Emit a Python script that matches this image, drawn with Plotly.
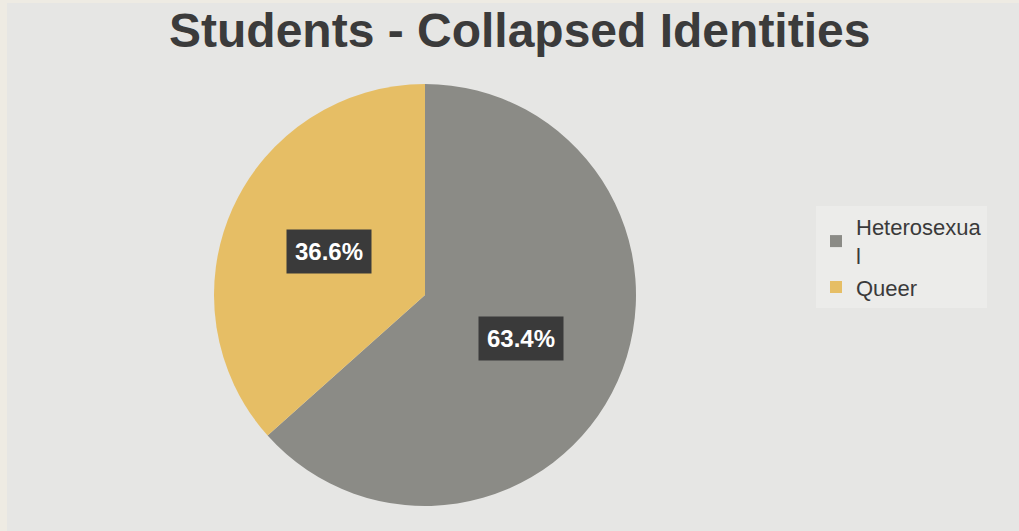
import math
import plotly.graph_objects as go

W, H = 1019, 531

categories = ["Heterosexua<br>l", "Queer"]
values = [63.4, 36.6]
colors = ["#8b8b86", "#e6be65"]
title_text = "Students - Collapsed Identities"

# pie geometry in pixels
cx, cy, r = 425, 295, 211

fig = go.Figure()
fig.add_trace(go.Pie(
    labels=categories,
    values=values,
    marker=dict(colors=colors, line=dict(width=0)),
    sort=False,
    direction="clockwise",
    rotation=0,
    textinfo="none",
    hoverinfo="label+percent",
    domain=dict(x=[(cx - r) / W, (cx + r) / W],
                y=[(H - cy - r) / H, (H - cy + r) / H]),
))

# percent labels with dark boxes, placed at half radius along each slice's mid-angle
total = sum(values)
cum = 0.0
annotations = []
for v in values:
    mid = cum + v / 2
    cum += v
    ang = math.radians(90 - 360 * mid / total)
    px = cx + 0.5 * r * math.cos(ang)
    py = cy - 0.5 * r * math.sin(ang)
    annotations.append(dict(
        x=px / W, y=1 - py / H, xref="paper", yref="paper",
        text=f"<b>{v / total * 100:.1f}%</b>", showarrow=False,
        font=dict(family="Liberation Sans, Arial", size=24, color="white"),
        bgcolor="#3a3a3a", borderpad=8,
        xanchor="center", yanchor="middle",
    ))

annotations.append(dict(
    x=519 / W, y=1 - 31 / H, xref="paper", yref="paper",
    text=f"<b>{title_text}</b>", showarrow=False,
    font=dict(family="Liberation Sans, Arial", size=48, color="#3b3b3b"),
    xanchor="center", yanchor="middle",
))

fig.update_layout(
    width=W, height=H,
    margin=dict(l=0, r=0, t=0, b=0),
    paper_bgcolor="#eeebe3",
    showlegend=True,
    legend=dict(
        x=816 / W, y=1 - 206 / H, xanchor="left", yanchor="top",
        bgcolor="#ececea",
        font=dict(family="Liberation Sans, Arial", size=22, color="#3a3a3a"),
        tracegroupgap=0, itemwidth=30,
    ),
    annotations=annotations,
    shapes=[dict(type="rect", xref="paper", yref="paper",
                 x0=7 / W, x1=1, y0=0, y1=1 - 3 / H,
                 fillcolor="#e6e6e4", line=dict(width=0), layer="below")],
)

fig.write_html("out.html")
